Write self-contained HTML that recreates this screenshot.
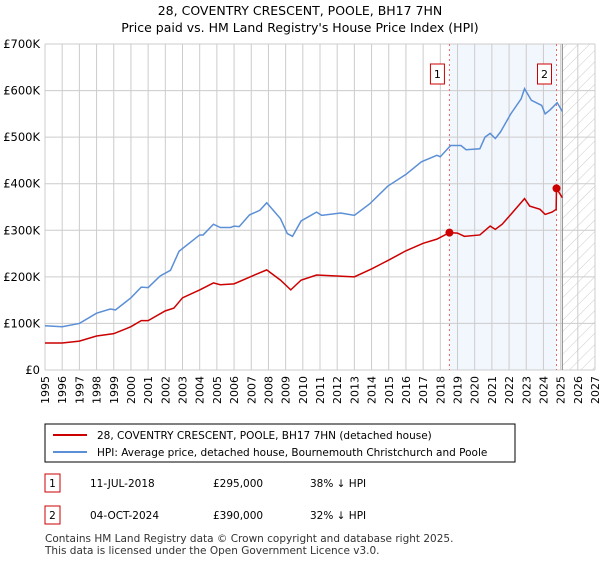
<!DOCTYPE html>
<html><head><meta charset="utf-8"><style>
body{margin:0;background:#fff;font-family:"Liberation Sans","DejaVu Sans",sans-serif;}
svg text{font-family:"DejaVu Sans","Liberation Sans",sans-serif;}
</style></head><body>
<svg id="chart" width="600" height="560" xmlns="http://www.w3.org/2000/svg">
<defs><pattern id="hatch" width="8" height="8" patternUnits="userSpaceOnUse" patternTransform="rotate(45)"><line x1="0" y1="0" x2="0" y2="8" stroke="#ccc" stroke-width="1"/></pattern></defs>
<text x="300" y="15" text-anchor="middle" font-size="12.5">28, COVENTRY CRESCENT, POOLE, BH17 7HN</text>
<text x="300" y="32" text-anchor="middle" font-size="12.5">Price paid vs. HM Land Registry's House Price Index (HPI)</text>
<g id="plot"></g>
<g>
<rect x="45" y="424" width="470" height="38" fill="#fff" stroke="#000" stroke-width="1"/>
<line x1="53" y1="435" x2="87" y2="435" stroke="#cc0000" stroke-width="2"/>
<text x="97" y="439" font-size="10.5">28, COVENTRY CRESCENT, POOLE, BH17 7HN (detached house)</text>
<line x1="53" y1="452" x2="87" y2="452" stroke="#5b8fd6" stroke-width="2"/>
<text x="97" y="456" font-size="10.5">HPI: Average price, detached house, Bournemouth Christchurch and Poole</text>
</g>
<g font-size="10.5">
<rect x="45" y="474" width="15" height="18" fill="#fff" stroke="#cc0000"/><text x="52.5" y="487" text-anchor="middle">1</text>
<text x="90" y="487">11-JUL-2018</text><text x="213" y="487">£295,000</text><text x="310" y="487">38% ↓ HPI</text>
<rect x="45" y="506" width="15" height="18" fill="#fff" stroke="#cc0000"/><text x="52.5" y="519" text-anchor="middle">2</text>
<text x="90" y="519">04-OCT-2024</text><text x="213" y="519">£390,000</text><text x="310" y="519">32% ↓ HPI</text>
</g>
<text x="45" y="542" font-size="10.5" fill="#333">Contains HM Land Registry data © Crown copyright and database right 2025.</text>
<text x="45" y="554" font-size="10.5" fill="#333">This data is licensed under the Open Government Licence v3.0.</text>
</svg>
<script>
const hpiYears=[1995,1996,1997,1998,1998.8,1999.1,2000,2000.6,2001,2001.7,2002.3,2002.8,2004,2004.2,2004.8,2005.2,2005.8,2006,2006.3,2006.9,2007.5,2007.9,2008.7,2009.1,2009.4,2009.9,2010.8,2011.1,2012.2,2013,2013.9,2014.95,2016,2016.9,2017.8,2018,2018.6,2019.2,2019.5,2020.3,2020.6,2020.9,2021.2,2021.5,2022.1,2022.7,2022.9,2023.3,2023.9,2024.1,2024.4,2024.8,2025.1];
const hpiValues=[95,93,100,122,131,129,155,178,177,202,214,255,290,290,313,306,306,309,308,333,343,359,325,293,287,320,339,332,337,332,357,395,420,447,461,458,482,482,473,475,500,508,497,511,550,582,604,579,568,550,559,574,555];
const priceYears=[1995,1996,1997,1998,1999,2000,2000.6,2001,2002,2002.5,2003,2004,2004.8,2005.2,2006,2007,2007.9,2008.7,2009.3,2009.9,2010.8,2013,2014,2015,2016,2017,2017.8,2018.53,2019,2019.4,2020.3,2020.9,2021.2,2021.6,2022.1,2022.9,2023.2,2023.8,2024.1,2024.5,2024.74,2024.76,2025.1];
const priceValues=[58,58,62,73,78,93,106,106,127,133,155,172,187,183,185,201,215,193,172,193,204,200,217,236,256,272,281,295,294,287,290,309,302,313,334,368,352,345,334,339,345,390,370];
const saleYears=[2018.53,2024.76];
const saleValues=[295,390];
const saleLabels=["1","2"];
const yTicks=[0,100,200,300,400,500,600,700];
const yTickLabels=["£0","£100K","£200K","£300K","£400K","£500K","£600K","£700K"];
const xTicks=[1995,1996,1997,1998,1999,2000,2001,2002,2003,2004,2005,2006,2007,2008,2009,2010,2011,2012,2013,2014,2015,2016,2017,2018,2019,2020,2021,2022,2023,2024,2025,2026,2027];

const L=45,R=595,T=44,B=370,X0=1995,X1=2027,YMAX=700,DATA_END=2025.1;
const xs=y=>L+(y-X0)/(X1-X0)*(R-L);
const ys=v=>B-v/YMAX*(B-T);
const NS="http://www.w3.org/2000/svg";
const g=document.getElementById('plot');
function mk(t,a){const e=document.createElementNS(NS,t);for(const k in a)e.setAttribute(k,a[k]);g.appendChild(e);return e;}
// shaded ownership region
let e=mk('rect',{x:xs(saleYears[0]),y:T,width:xs(saleYears[1])-xs(saleYears[0]),height:B-T,fill:'#eef3fc',opacity:0.75});


e=mk('rect',{x:xs(DATA_END),y:T,width:R-xs(DATA_END),height:B-T,fill:'url(#hatch)'});


xTicks.forEach(t=>{const l=mk('line',{x1:xs(t),x2:xs(t),y1:T,y2:B,stroke:'#ccc','stroke-width':1});


const tx=mk('text',{x:0,y:0,'font-size':11,'text-anchor':'end',transform:`translate(${xs(t)+4},${B+6}) rotate(-90)`});tx.textContent=t;

});
yTicks.forEach((t,i)=>{const l=mk('line',{x1:L,x2:R,y1:ys(t),y2:ys(t),stroke:'#ccc','stroke-width':1});


const tx=mk('text',{x:L-5,y:ys(t)+4,'font-size':11.5,'text-anchor':'end'});tx.textContent=yTickLabels[i];

});
e=mk('line',{x1:xs(DATA_END),x2:xs(DATA_END),y1:T,y2:B,stroke:'#888','stroke-width':1});


saleYears.forEach((s,i)=>{const l=mk('line',{x1:xs(s),x2:xs(s),y1:T,y2:B,stroke:'#e66','stroke-width':1,'stroke-dasharray':'2,3'});


const r=mk('rect',{x:xs(s)-19,y:64,width:14,height:20,fill:'#fff',stroke:'#cc0000'});


const t=mk('text',{x:xs(s)-12,y:78,'font-size':11,'text-anchor':'middle'});t.textContent=saleLabels[i];

});
e=mk('polyline',{points:hpiYears.map((y,i)=>xs(y)+','+ys(hpiValues[i])).join(' '),fill:'none',stroke:'#5b8fd6','stroke-width':1.5});


e=mk('polyline',{points:priceYears.map((y,i)=>xs(y)+','+ys(priceValues[i])).join(' '),fill:'none',stroke:'#cc0000','stroke-width':1.5});


saleYears.forEach((s,i)=>{const c=mk('circle',{cx:xs(s),cy:ys(saleValues[i]),r:4,fill:'#cc0000'});

});
</script>
</body></html>
